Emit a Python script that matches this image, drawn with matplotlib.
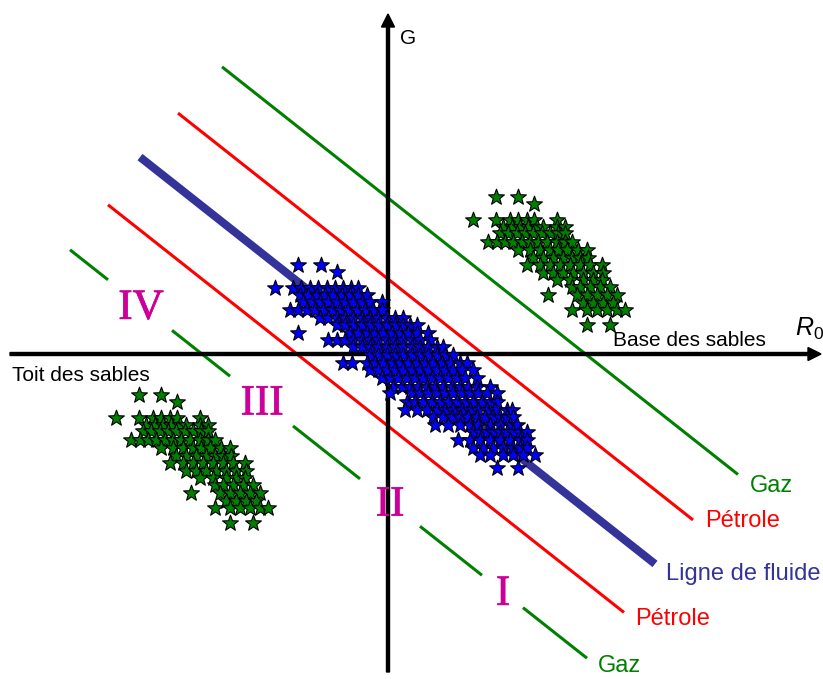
import matplotlib
matplotlib.use("Agg")
import matplotlib.pyplot as plt
import matplotlib.patheffects as pe
from matplotlib.path import Path

plt.rcParams["font.family"] = ["Liberation Sans", "DejaVu Sans"]
plt.rcParams["mathtext.fontset"] = "custom"
plt.rcParams["mathtext.it"] = "Liberation Sans:italic"
plt.rcParams["mathtext.rm"] = "Liberation Sans"

# ---------------------------------------------------------------------------
# Fluid / lithology trend lines  (y = intercept + slope * x)
# ---------------------------------------------------------------------------
trend_slope = -0.79
trend_names = ["Gaz", "Pétrole", "Ligne de fluide", "Pétrole", "Gaz"]
trend_intercepts = [156, 75, 1, -72, -147]
trend_x_start = [-166, -210, -248, -280, -318]
trend_x_end = [350, 305, 267, 236, 199]

# Zone numerals sitting on the lowest trend line
zone_labels = ["IV", "III", "II", "I"]
zone_x = [-247, -126, 2, 115]

# ---------------------------------------------------------------------------
# Crossplot clouds, stored row by row (row y, then the x values on that row)
# ---------------------------------------------------------------------------
gas_base_row_y = [157, 150, 134, 127, 121, 112, 104, 96, 89, 81, 74, 67, 59, 51, 44, 29]
gas_base_row_x = [
    [108, 130],
    [146],
    [85, 108, 122, 130, 139, 146, 169],
    [115, 124, 132, 140, 149, 155, 169, 177],
    [112, 120, 129, 137, 145, 154, 162, 170, 177],
    [100, 109, 117, 125, 134, 142, 150, 159, 169, 177, 184],
    [130, 142, 152, 162, 170, 179, 190, 199],
    [145, 155, 165, 175, 184, 192, 200],
    [139, 152, 162, 172, 182, 192, 202, 214],
    [155, 165, 175, 185, 195, 205, 215],
    [169, 182, 195, 205, 214],
    [184, 192, 202, 212, 222],
    [160, 189, 199, 209, 219, 229],
    [195, 205, 215, 225],
    [184, 199, 209, 219, 229, 237],
    [199, 222],
]

gas_top_row_y = [-41, -48, -64, -71, -77, -86, -94, -102, -109, -117, -124, -131, -139, -147, -154, -169]
gas_top_row_x = [
    [-249, -227],
    [-211],
    [-272, -249, -235, -227, -218, -211, -188],
    [-242, -233, -225, -217, -208, -202, -188, -180],
    [-245, -237, -228, -220, -212, -203, -195, -187, -180],
    [-257, -248, -240, -232, -223, -215, -207, -198, -188, -180, -173],
    [-227, -215, -205, -195, -187, -178, -167, -158],
    [-212, -202, -192, -182, -173, -165, -157],
    [-218, -205, -195, -185, -175, -165, -155, -143],
    [-202, -192, -182, -172, -162, -152, -142],
    [-188, -175, -162, -152, -143],
    [-173, -165, -155, -145, -135],
    [-197, -168, -158, -148, -138, -128],
    [-162, -152, -142, -132],
    [-173, -158, -148, -138, -128, -120],
    [-158, -135],
]

brine_row_y = [89, 82, 66, 59, 52, 44, 36, 29, 21, 14, 7, -1, -9, -16, -24, -33,
               -39, -48, -56, -63, -71, -78, -86, -94, -101, -114]
brine_row_x = [
    [-90, -67],
    [-51],
    [-113, -95, -87, -78, -70, -61, -53, -45, -37, -30],
    [-88, -80, -71, -63, -55, -46, -38, -30, -21],
    [-85, -76, -68, -60, -51, -43, -35, -26, -18, -6],
    [-98, -90, -81, -73, -65, -56, -48, -40, -31, -23, -15, -6],
    [-68, -60, -51, -43, -35, -26, -18, -10, -1, 7, 15],
    [-51, -43, -35, -26, -18, -10, -1, 7, 15, 22, 29],
    [-90, -38, -30, -21, -13, -5, 4, 12, 20, 29, 40],
    [-60, -51, -43, -35, -26, -18, -10, -1, 7, 15, 24, 32, 42],
    [-35, -26, -18, -10, -1, 7, 15, 24, 32, 40, 49, 55],
    [-18, -10, -1, 7, 15, 24, 32, 40, 49, 57, 65],
    [-45, -36, -21, -13, -5, 4, 12, 20, 29, 37, 45, 54, 62, 72, 79],
    [-18, -10, -1, 7, 15, 24, 32, 40, 49, 57, 65, 74, 85],
    [-6, 2, 10, 19, 27, 35, 44, 52, 60, 69, 77, 89],
    [5, 14, 22, 30, 39, 47, 55, 64, 72, 80, 89, 102],
    [2, 24, 32, 40, 49, 57, 65, 74, 82, 90, 99, 109],
    [19, 27, 35, 44, 52, 60, 69, 77, 85, 94, 102, 109],
    [17, 29, 39, 49, 57, 65, 74, 82, 90, 99, 107, 119, 124],
    [45, 55, 64, 72, 80, 89, 97, 105, 112, 119, 125],
    [47, 60, 72, 82, 90, 102, 112, 122, 129],
    [85, 92, 99, 105, 112, 119, 125, 132, 139],
    [70, 82, 92, 102, 112, 122, 132, 139],
    [85, 95, 105, 115, 125, 132, 139],
    [92, 102, 115, 125, 135, 147],
    [109, 130],
]

# ---------------------------------------------------------------------------
GREEN = "#008000"
RED = "#FF0000"
FLUID = "#333399"
MAGENTA = "#CC0099"
trend_colors = [GREEN, RED, FLUID, RED, GREEN]
trend_widths = [2.2, 2.2, 5.8, 2.2, 2.2]
label_x = [362, 317, 278, 247, 210]
label_y = [-138, -173, -226, -271, -318]
# breaks in the lowest line where the zone numerals sit
zone_gaps = [(-280, -216), (-158, -95), (-28, 32), (94, 135)]

# five-pointed star marker
STAR = Path.unit_regular_star(5, innerCircle=0.41)


def flatten(rows_y, rows_x):
    xs, ys = [], []
    for y, row in zip(rows_y, rows_x):
        xs.extend(row)
        ys.extend([y] * len(row))
    return xs, ys


fig = plt.figure(figsize=(8.23, 6.79), dpi=100)
ax = fig.add_axes([0, 0, 1, 1])
ax.set_xlim(-388, 435)
ax.set_ylim(-325, 354)
ax.axis("off")

# trend lines
for i, (b, x0, x1) in enumerate(zip(trend_intercepts, trend_x_start, trend_x_end)):
    if i == len(trend_intercepts) - 1:
        pieces = []
        start = x0
        for g0, g1 in zone_gaps:
            pieces.append((start, g0))
            start = g1
        pieces.append((start, x1))
    else:
        pieces = [(x0, x1)]
    for a, c in pieces:
        ax.plot([a, c], [b + trend_slope * a, b + trend_slope * c],
                color=trend_colors[i], lw=trend_widths[i],
                solid_capstyle="butt", zorder=2)
    ax.text(label_x[i], label_y[i], trend_names[i], color=trend_colors[i],
            fontsize=17, ha="left", va="baseline", zorder=6)

# axes with arrow heads
ax.arrow(-378, 0, 811, 0, width=3, head_width=13, head_length=13,
         length_includes_head=True, color="black", zorder=3)
ax.arrow(0, -318, 0, 658, width=3, head_width=13, head_length=13,
         length_includes_head=True, color="black", zorder=3)

# clouds of samples
star_kw = dict(marker=STAR, linestyle="none", ms=12, mec="black", mew=0.8, zorder=4)
bx, by = flatten(brine_row_y, brine_row_x)
ax.plot(bx, by, mfc="#0000FF", **star_kw)
gx, gy = flatten(gas_base_row_y, gas_base_row_x)
ax.plot(gx, gy, mfc=GREEN, **star_kw)
tx, ty = flatten(gas_top_row_y, gas_top_row_x)
ax.plot(tx, ty, mfc=GREEN, **star_kw)

# zone numerals
for lab, zx in zip(zone_labels, zone_x):
    zy = trend_intercepts[-1] + trend_slope * zx
    ax.text(zx, zy - 13, lab, color=MAGENTA, fontsize=31,
            family=["Liberation Serif", "DejaVu Serif"],
            ha="center", va="baseline", zorder=6,
            path_effects=[pe.withStroke(linewidth=0.5, foreground=MAGENTA)])

# axis captions
ax.text(225, 8, "Base des sables", fontsize=15, ha="left", va="baseline", zorder=6)
ax.text(-376, -27, "Toit des sables", fontsize=15, ha="left", va="baseline", zorder=6)
ax.text(12, 310, "G", fontsize=15, ha="left", va="baseline", zorder=6)
ax.text(407, 18, r"$\mathit{R}_\mathit{0}$", fontsize=18, ha="left", va="baseline", zorder=6)

fig.savefig("out.png", dpi=100)
